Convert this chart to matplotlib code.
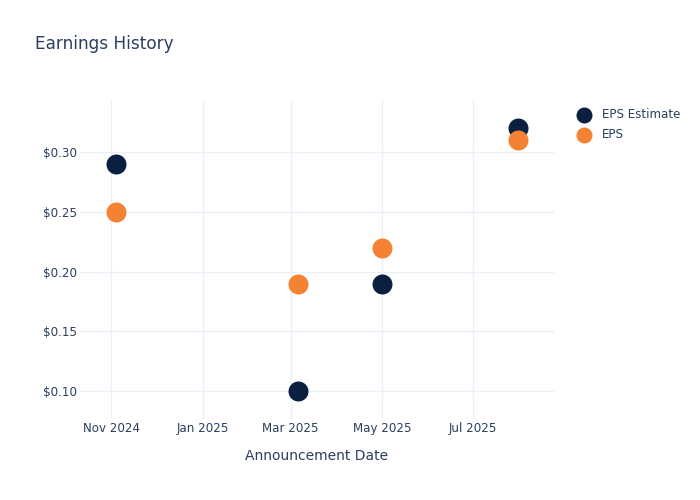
import matplotlib
matplotlib.use("Agg")
import matplotlib.pyplot as plt
import matplotlib.dates as mdates
from matplotlib.ticker import FuncFormatter
import pandas as pd

dates = pd.to_datetime(["2024-11-04", "2025-03-06", "2025-05-01", "2025-07-31"])
eps_estimate = [0.29, 0.10, 0.19, 0.32]
eps_actual = [0.25, 0.19, 0.22, 0.31]
series_names = ["EPS Estimate", "EPS"]

navy = "#0b1f41"
orange = "#f58233"
text_color = "#2a3f5f"
grid_color = "#ebf0f8"

plt.rcParams["font.family"] = ["DejaVu Sans"]
fig = plt.figure(figsize=(7, 5), dpi=100)
ax = fig.add_axes([80 / 700, 1 - 419 / 500, (553.7 - 80) / 700, (419 - 100) / 500])

ms = 207
ax.scatter(dates, eps_estimate, s=ms, color=navy, label=series_names[0], zorder=3, linewidths=0)
ax.scatter(dates, eps_actual, s=ms, color=orange, label=series_names[1], zorder=4, linewidths=0)

ax.set_xlim(pd.Timestamp("2024-10-11"), pd.Timestamp("2025-08-24"))
ax.set_ylim(0.0768, 0.3435)
ax.xaxis.set_major_locator(mdates.MonthLocator(bymonth=[1, 3, 5, 7, 9, 11]))
ax.xaxis.set_major_formatter(mdates.DateFormatter("%b %Y"))
ax.set_yticks([0.10, 0.15, 0.20, 0.25, 0.30])
ax.yaxis.set_major_formatter(FuncFormatter(lambda v, p: f"${v:.2f}"))

for s in ax.spines.values():
    s.set_visible(False)
ax.grid(True, color=grid_color, linewidth=1)
ax.set_axisbelow(True)
ax.tick_params(axis="both", length=0, labelsize=8.6, labelcolor=text_color)
ax.tick_params(axis="x", pad=2)
ax.tick_params(axis="y", pad=2)

ax.set_xlabel("Announcement Date", fontsize=10, color=text_color, labelpad=10)

fig.text(35 / 700, 1 - 44 / 500, "Earnings History", fontsize=12.2, color=text_color,
         ha="left", va="center")

leg = ax.legend(loc="upper left", bbox_to_anchor=(572 / 700, 1 - 103 / 500),
                bbox_transform=fig.transFigure, frameon=False, fontsize=8.6,
                labelcolor=text_color, markerscale=0.8, handletextpad=0.9,
                labelspacing=0.6, borderaxespad=0, handlelength=1.2)

fig.savefig("out.png", dpi=100)
